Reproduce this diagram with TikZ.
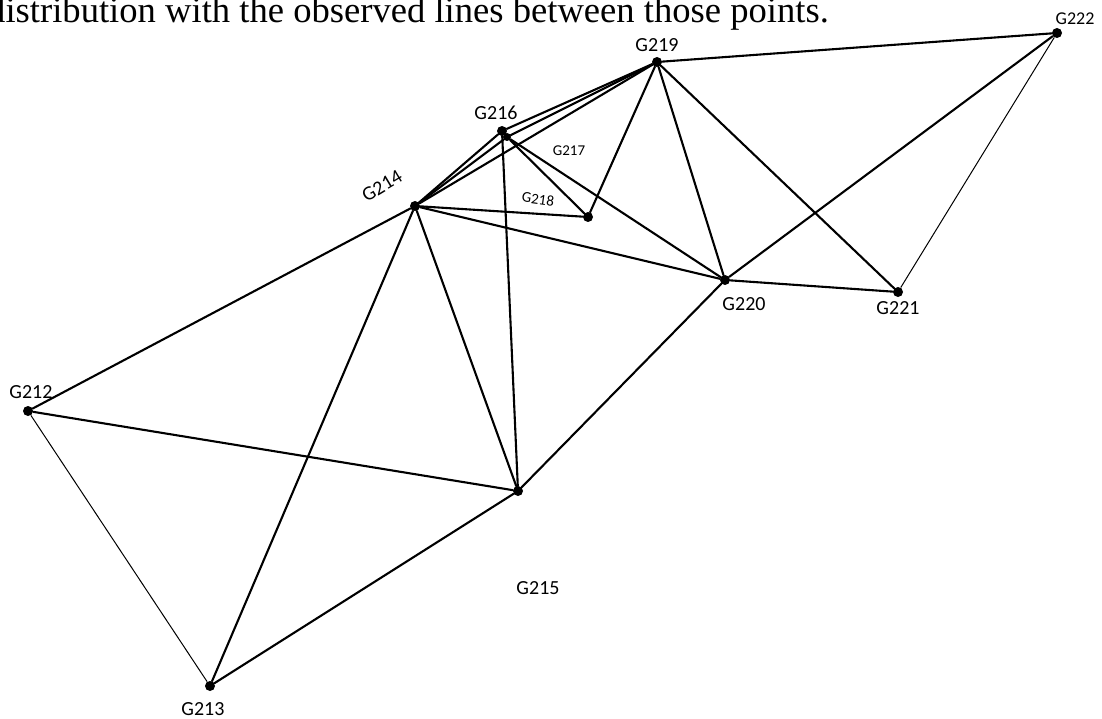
\documentclass[tikz,border=0pt]{standalone}
\usepackage{fontspec}
\setmainfont{Liberation Serif}
\newfontfamily\mapfont{Carlito}
\usetikzlibrary{positioning}

\begin{document}
\begin{tikzpicture}[
        x=1pt, y=-1pt,
        station/.style={
            circle, fill=black, inner sep=0pt, minimum size=10pt
        },
        siteLabel/.style={
            font=\mapfont\fontsize{20}{24}\selectfont, inner sep=0pt
        },
        smallLabel/.style={
            font=\mapfont\fontsize{15}{18}\selectfont, inner sep=0pt
        },
        obsLine/.style={
            line width=2.1pt, line cap=round
        },
        weakLine/.style={
            line width=1pt
        }
    ]
        \useasboundingbox (0,0) rectangle (1102,719);

        % Caption
        \node (caption) [anchor=base west, inner sep=0pt, font=\fontsize{36.6}{40}\selectfont] at (-13,23) {distribution with the observed lines between those points.};

        % Stations
        \node (g212) [station] at (28,411) {};
        \node (g213) [station] at (210,686) {};
        \node (g214) [station] at (415,206) {};
        \node (g215) [station] at (518,491) {};
        \node (g216) [station] at (502,131) {};
        \node (g217) [station, minimum size=8pt] at (507,137) {};
        \node (g218) [station] at (588,217) {};
        \node (g219) [station] at (657,62) {};
        \node (g220) [station] at (725,280) {};
        \node (g221) [station] at (898,292) {};
        \node (g222) [station] at (1057,33) {};

        % Labels
        \node (t212) [siteLabel] at (31,392) {G212};
        \node (t213) [siteLabel] at (203,709) {G213};
        \node (t214) [siteLabel, rotate=31] at (382,186) {G214};
        \node (t215) [siteLabel] at (538,588) {G215};
        \node (t216) [siteLabel] at (496,113) {G216};
        \node (t217) [smallLabel] at (569,151) {G217};
        \node (t218) [smallLabel, rotate=-8] at (538,199) {G218};
        \node (t219) [siteLabel] at (657,45) {G219};
        \node (t220) [siteLabel] at (744,304) {G220};
        \node (t221) [siteLabel] at (898,308) {G221};
        \node (t222) [siteLabel, font=\mapfont\fontsize{18}{22}\selectfont] at (1075,19) {G222};

        % Lines
        \draw [obsLine] (g212) -- (g214);
        \draw [obsLine] (g212) -- (g215);
        \draw [weakLine] (g212) -- (g213);
        \draw [obsLine] (g213) -- (g214);
        \draw [obsLine] (g213) -- (g215);
        \draw [obsLine] (g214) -- (g216);
        \draw [obsLine] (g214) -- (g217);
        \draw [obsLine] (g214) -- (g219);
        \draw [obsLine] (g214) -- (g218);
        \draw [obsLine] (g214) -- (g220);
        \draw [obsLine] (g214) -- (g215);
        \draw [obsLine] (g216) -- (g219);
        \draw [obsLine] (g217) -- (g219);
        \draw [obsLine] (g216) -- (g215);
        \draw [obsLine] (g217) -- (g218);
        \draw [obsLine] (g217) -- (g220);
        \draw [obsLine] (g219) -- (g222);
        \draw [obsLine] (g219) -- (g218);
        \draw [obsLine] (g219) -- (g220);
        \draw [obsLine] (g219) -- (g221);
        \draw [obsLine] (g220) -- (g222);
        \draw [obsLine] (g220) -- (g221);
        \draw [obsLine] (g220) -- (g215);
        \draw [weakLine] (g221) -- (g222);
    \end{tikzpicture}
\end{document}
